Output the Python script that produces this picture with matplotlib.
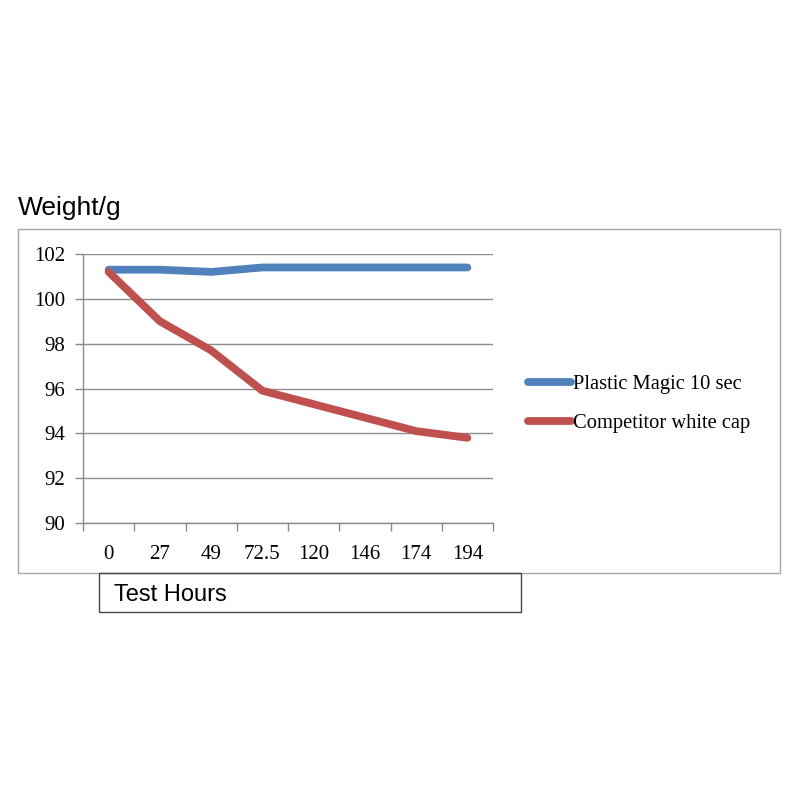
import matplotlib.pyplot as plt
from matplotlib.patches import Rectangle
from matplotlib.lines import Line2D

hours = ["0", "27", "49", "72.5", "120", "146", "174", "194"]
plastic_magic = [101.3, 101.3, 101.2, 101.4, 101.4, 101.4, 101.4, 101.4]
competitor = [101.2, 99.0, 97.7, 95.9, 95.3, 94.7, 94.1, 93.8]
series_names = ["Plastic Magic 10 sec", "Competitor white cap"]
colors = ["#4F81BD", "#C0504D"]
yticks = [90, 92, 94, 96, 98, 100, 102]

fig = plt.figure(figsize=(8, 8), dpi=100)
W, H = 800, 800

def fx(px):
    return px / W

def fy(py):
    return 1 - py / H

# outer chart frame
fig.patches.append(Rectangle((fx(18), fy(573)), fx(780) - fx(18), fy(229) - fy(573),
                             transform=fig.transFigure, fill=False,
                             edgecolor="#A6A6A6", linewidth=1.0))
# Test Hours box
fig.patches.append(Rectangle((fx(99), fy(612)), fx(521) - fx(99), fy(573) - fy(612),
                             transform=fig.transFigure, fill=False,
                             edgecolor="#444444", linewidth=1.0))

ax = fig.add_axes([fx(83), fy(523), fx(493) - fx(83), fy(254) - fy(523)])
x = list(range(len(hours)))
for vals, c, name in zip([plastic_magic, competitor], colors, series_names):
    ax.plot(x, vals, color=c, linewidth=5.6, solid_capstyle="round",
            solid_joinstyle="round", label=name)

ax.set_xlim(-0.5, len(hours) - 0.5)
ax.set_ylim(90, 102)
ax.set_yticks(yticks)
ax.set_yticklabels([str(t) for t in yticks], fontfamily="Liberation Serif", fontsize=15)
ax.set_xticks(x)
ax.set_xticklabels(hours, fontfamily="Liberation Serif", fontsize=15)
ax.set_xticks([i - 0.5 for i in range(len(hours) + 1)], minor=True)
ax.tick_params(axis="x", which="major", length=0, pad=16)
ax.tick_params(axis="x", which="minor", length=6, color="#888888", width=1)
ax.tick_params(axis="y", length=6, color="#888888", width=1, pad=7)
ax.grid(axis="y", color="#8C8C8C", linewidth=1)
ax.set_axisbelow(True)
for s in ["top", "right"]:
    ax.spines[s].set_visible(False)
for s in ["left", "bottom"]:
    ax.spines[s].set_color("#8C8C8C")
    ax.spines[s].set_linewidth(1)

handles = [Line2D([0], [0], color=c, linewidth=5.6, solid_capstyle="round") for c in colors]
fig.legend(handles, series_names, loc="center left",
           bbox_to_anchor=(fx(509), fy(404)), frameon=False,
           prop={"family": "Liberation Serif", "size": 14.8},
           handlelength=2.1, handletextpad=0.1, labelspacing=0.95)

fig.text(fx(18), fy(208), "Weight/g", fontfamily="Liberation Sans", fontsize=19,
         va="center", ha="left")
fig.text(fx(114), fy(595), "Test Hours", fontfamily="Liberation Sans", fontsize=17,
         va="center", ha="left")

fig.savefig("out.png", dpi=100)
